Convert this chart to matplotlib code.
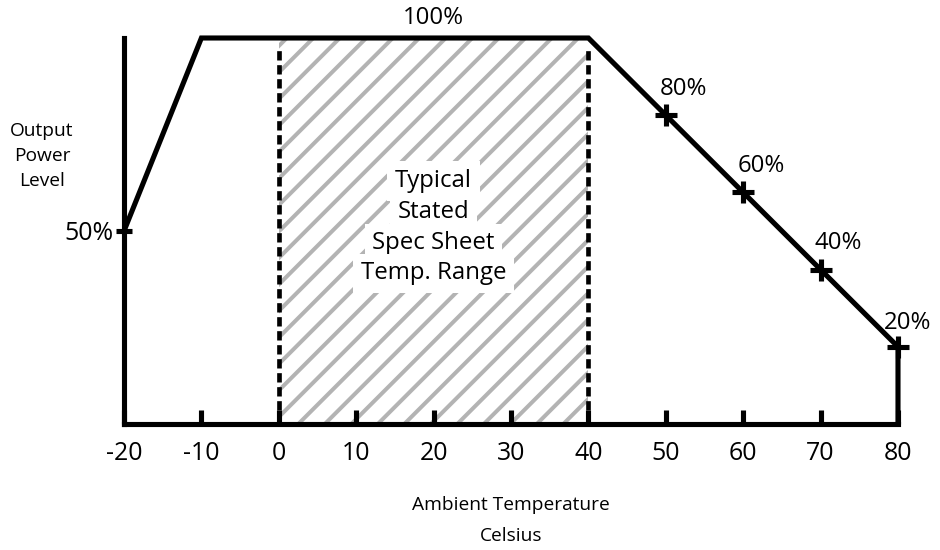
import numpy as np
import matplotlib.pyplot as plt
from matplotlib.patches import Rectangle
from matplotlib.transforms import IdentityTransform

plt.rcParams['font.family'] = ['Open Sans', 'DejaVu Sans']

# derating curve
temps = [-20, -10, 40, 80, 80]
power = [50, 100, 100, 20, 0]

# marked points on the slope
mark_temps = [50, 60, 70, 80]
mark_power = [80, 60, 40, 20]
mark_labels = ['80%', '60%', '40%', '20%']
mark_offsets = [(8, 6.5), (8, 6.5), (8, 6.5), (4.5, 5.5)]

spec_range = (0, 40)
spec_text = ['Typical', 'Stated', 'Spec Sheet', 'Temp. Range']
spec_text_y = [63, 54.8, 46.8, 39]

xticks = [-20, -10, 0, 10, 20, 30, 40, 50, 60, 70, 80]

DPI = 160
fig = plt.figure(figsize=(940 / DPI, 550 / DPI), dpi=DPI)
ax = fig.add_axes([124 / 940, 126 / 550, 774 / 940, 386 / 550])
ax.set_xlim(-20, 80)
ax.set_ylim(0, 100)

# hatched spec range (45 degree stripes, drawn in pixel space)
rect = Rectangle((spec_range[0], 0), spec_range[1] - spec_range[0], 100,
                 facecolor='white', edgecolor='none', zorder=1)
ax.add_patch(rect)
(x0, y0), (x1, y1) = ax.transData.transform([(spec_range[0], 0), (spec_range[1], 100)])
h = y1 - y0
step = 26.5
for sx in np.arange(x0 - h + 8, x1, step):
    ln, = ax.plot([sx, sx + h], [y0, y1], color='#b3b3b3', lw=1.8,
                  transform=IdentityTransform(), zorder=1.5, solid_capstyle='butt')
    ln.set_clip_path(rect)
for x in spec_range:
    ax.plot([x, x], [0, 98], color='black', lw=2.1, dashes=(2.0, 1.0), zorder=2)

for t, y in zip(spec_text, spec_text_y):
    ax.text(20, y, t, ha='center', va='center', fontsize=10.8, zorder=3,
            bbox=dict(facecolor='white', edgecolor='none', pad=3.5))

ax.plot(temps, power, color='black', lw=2.3, clip_on=False, zorder=4,
        solid_joinstyle='miter')
ax.plot(mark_temps, mark_power, ls='none', marker='+', ms=9.5, mew=2.3,
        color='black', clip_on=False, zorder=5)
for x, y, lab, off in zip(mark_temps, mark_power, mark_labels, mark_offsets):
    ax.annotate(lab, (x, y), xytext=off, textcoords='offset points',
                ha='center', va='bottom', fontsize=10.8)
ax.annotate('100%', (20, 100), xytext=(0, 3.8), textcoords='offset points',
            ha='center', va='bottom', fontsize=10.8)

for s in ['top', 'right']:
    ax.spines[s].set_visible(False)
for s in ['left', 'bottom']:
    ax.spines[s].set_linewidth(2.3)
    ax.spines[s].set_capstyle('projecting')

ax.set_xticks(xticks)
ax.set_xticklabels([str(v) for v in xticks])
ax.tick_params(axis='x', direction='in', length=6.5, width=2.3, pad=7.5,
               labelsize=11.2)
ax.set_yticks([50])
ax.set_yticklabels(['50%'])
ax.tick_params(axis='y', direction='inout', length=7.5, width=2.3, pad=1,
               labelsize=11.2)

fig.text(511 / 940, 1 - 496 / 550, 'Ambient Temperature\nCelsius', ha='center',
         va='top', fontsize=8.6, linespacing=1.9)
fig.text(42 / 940, 1 - 156 / 550, 'Output\nPower\nLevel', ha='center',
         va='center', fontsize=8.6, linespacing=1.5)

fig.savefig('out.png', dpi=DPI)
